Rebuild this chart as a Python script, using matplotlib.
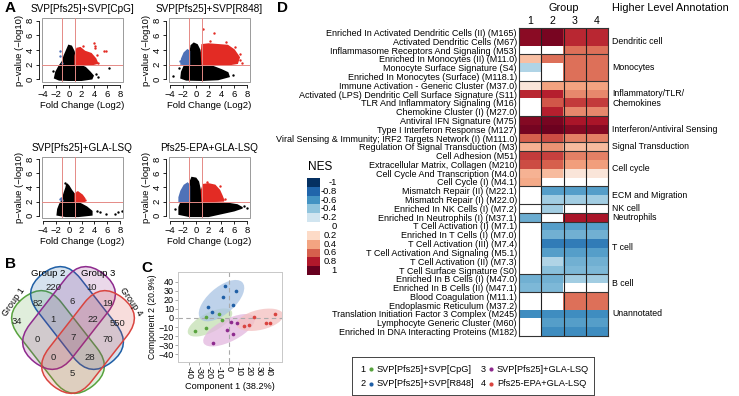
import numpy as np
import matplotlib.pyplot as plt
from matplotlib.patches import Polygon, Rectangle, FancyBboxPatch, Ellipse
from matplotlib.transforms import Affine2D
from matplotlib.colors import to_rgba

plt.rcParams['font.family'] = ['Liberation Sans', 'DejaVu Sans']

# ---------------- data ----------------
group_names = ['SVP[Pfs25]+SVP[CpG]', 'SVP[Pfs25]+SVP[R848]',
               'SVP[Pfs25]+GLA-LSQ', 'Pfs25-EPA+GLA-LSQ']
group_colors = ['#58a33e', '#1f5fa6', '#8e2a8e', '#d9443f']

# volcano plots: cloud outlines (fold change, -log10 p) + single points
v1_black = [(-2.2, 0.2), (-2.0, 1.0), (-1.5, 1.8), (-1.0, 2.4), (-0.7, 3.2), (-0.3, 4.0),
            (0.0, 4.6), (0.4, 4.5), (0.8, 3.8), (1.0, 2.8), (1.6, 2.0), (2.6, 1.6),
            (3.3, 1.0), (3.8, 0.5), (3.6, 0.1), (2.0, -0.1), (0.0, -0.1), (-1.5, -0.05)]
v1_red = [(1.0, 2.0), (1.0, 3.2), (1.3, 4.2), (1.8, 4.3), (2.5, 3.8), (3.5, 3.5),
          (4.2, 2.8), (4.5, 2.2), (3.5, 2.0)]
v1_red_pts = [(4.0, 4.9), (4.1, 4.6), (4.1, 4.3), (5.5, 3.8), (5.8, 3.8), (4.5, 3.3),
              (4.0, 2.5), (3.3, 2.9), (2.3, 4.6), (4.6, 2.2)]
v1_blue = []
v1_blue_pts = [(-1.3, 3.8), (-1.3, 3.2), (-1.1, 2.3)]
v1_black_pts = [(-2.4, 1.2), (6.3, 1.5), (4.2, 0.8), (4.6, 0.3)]

v2_black = [(-2.3, 0.2), (-2.2, 1.0), (-1.8, 1.8), (-1.0, 2.0), (-0.9, 3.5), (-0.7, 4.6),
            (-0.3, 4.9), (0.2, 4.7), (0.6, 4.0), (0.9, 2.6), (1.2, 2.0), (2.5, 1.8),
            (4.0, 1.3), (5.0, 0.9), (5.2, 0.4), (3.5, 0.0), (1.0, -0.1), (-1.5, -0.05)]
v2_red = [(1.0, 2.0), (0.9, 3.5), (1.0, 4.7), (2.0, 4.8), (3.5, 4.7), (5.0, 4.6),
          (6.0, 4.0), (6.8, 3.0), (6.5, 2.2), (5.0, 2.0)]
v2_red_pts = [(1.2, 6.9), (2.8, 6.3), (2.3, 5.2), (4.8, 5.1), (6.2, 4.4), (7.0, 2.6),
              (6.9, 3.4), (7.2, 2.3)]
v2_blue = [(-1.0, 2.0), (-1.0, 3.8), (-1.3, 4.0), (-1.8, 3.6), (-2.2, 2.8), (-2.3, 2.1)]
v2_blue_pts = [(-2.4, 2.5)]
v2_black_pts = [(-2.7, 1.5), (3.5, 1.2), (5.8, 0.6), (-3.5, 0.4)]

v3_black = [(-1.8, 0.1), (-1.7, 0.9), (-1.4, 1.6), (-1.0, 2.2), (-0.7, 3.2), (-0.4, 4.0),
            (-0.3, 4.5), (0.0, 4.2), (0.4, 3.6), (0.9, 3.0), (1.0, 2.0), (2.0, 1.6),
            (2.8, 1.2), (3.6, 0.6), (3.6, 0.1), (1.5, -0.1), (-0.5, -0.1)]
v3_red = [(1.0, 2.0), (1.0, 3.1), (1.5, 3.3), (2.1, 2.9), (2.5, 2.4), (2.4, 2.0)]
v3_red_pts = [(1.3, 3.4), (2.6, 2.2)]
v3_blue = []
v3_blue_pts = [(-1.3, 2.3), (-1.15, 2.5), (-1.05, 2.2)]
v3_black_pts = [(4.35, 0.6), (4.9, 0.45), (5.9, 0.2), (7.2, 0.2), (7.7, 0.45),
                (8.3, 0.6), (-0.6, 4.7)]

v4_black = [(-2.6, 0.2), (-2.6, 1.2), (-2.3, 1.9), (-1.0, 2.0), (-1.0, 4.5), (-0.6, 5.4),
            (0.0, 5.3), (0.4, 4.8), (0.7, 3.5), (1.0, 2.0), (2.5, 1.9), (4.5, 1.8),
            (6.5, 1.5), (7.3, 1.1), (6.0, 0.7), (4.0, 0.3), (2.0, -0.1), (-1.0, -0.1)]
v4_red = [(1.0, 2.0), (0.9, 3.6), (1.2, 4.4), (2.0, 4.5), (3.0, 4.3), (3.7, 3.6),
          (4.1, 2.8), (4.4, 2.1)]
v4_red_pts = [(1.8, 4.8), (4.6, 2.3), (3.8, 4.2)]
v4_blue = [(-1.0, 2.0), (-1.0, 4.2), (-1.3, 4.6), (-1.8, 4.3), (-2.3, 3.5), (-2.6, 2.6),
           (-2.6, 2.0)]
v4_blue_pts = []
v4_black_pts = [(7.5, 1.3), (-3.2, 1.0), (8.0, 1.1)]

# Venn counts (label, x, y in panel pixels)
venn_counts = ['220', '10', '82', '6', '19', '34', '1', '22', '550', '0', '7', '70', '0', '28', '5']
venn_x = [53, 92, 38, 72, 108, 17, 53, 93, 118, 37, 73, 108, 53, 90, 72]
venn_y = [288, 288, 303, 302, 303, 322, 320, 319, 323, 340, 338, 340, 358, 358, 374]

# PCA scores per group
pca_x = [[-10.2, -23, -7, -34, -23],
         [-4.2, 7.4, -5.6, -21.4, 3.9, -17.2],
         [1.7, 7.7, -1.8, 3.9, -16.5],
         [15, 20, 25, 37, 41, 46]]
pca_y = [[4.7, 1.1, -2.2, -14, -11],
         [35, 30, 22.7, 12, 14, 6.2],
         [-4.4, -5.9, -13.6, -18, -27],
         [-9, -7.3, 1, -5, -6, 4]]

# heatmap
modules = [
    'Enriched In Activated Dendritic Cells (II) (M165)',
    'Activated Dendritic Cells (M67)',
    'Inflammasome Receptors And Signaling (M53)',
    'Enriched In Monocytes (II) (M11.0)',
    'Monocyte Surface Signature (S4)',
    'Enriched In Monocytes (Surface) (M118.1)',
    'Immune Activation - Generic Cluster (M37.0)',
    'Activated (LPS) Dendritic Cell Surface Signature (S11)',
    'TLR And Inflammatory Signaling (M16)',
    'Chemokine Cluster (I) (M27.0)',
    'Antiviral IFN Signature (M75)',
    'Type I Interferon Response (M127)',
    'Viral Sensing & Immunity; IRF2 Targets Network (I) (M111.0)',
    'Regulation Of Signal Transduction (M3)',
    'Cell Adhesion (M51)',
    'Extracellular Matrix, Collagen (M210)',
    'Cell Cycle And Transcription (M4.0)',
    'Cell Cycle (I) (M4.1)',
    'Mismatch Repair (II) (M22.1)',
    'Mismatch Repair (I) (M22.0)',
    'Enriched In NK Cells (I) (M7.2)',
    'Enriched In Neutrophils (I) (M37.1)',
    'T Cell Activation (I) (M7.1)',
    'Enriched In T Cells (I) (M7.0)',
    'T Cell Activation (III) (M7.4)',
    'T Cell Activation And Signaling (M5.1)',
    'T Cell Activation (II) (M7.3)',
    'T Cell Surface Signature (S0)',
    'Enriched In B Cells (I) (M47.0)',
    'Enriched In B Cells (II) (M47.1)',
    'Blood Coagulation (M11.1)',
    'Endoplasmic Reticulum (M37.2)',
    'Translation Initiation Factor 3 Complex (M245)',
    'Lymphocyte Generic Cluster (M60)',
    'Enriched In DNA Interacting Proteins (M182)',
]
nes = np.array([
    [0.90, 0.95, 0.75, 0.75],
    [0.90, 0.95, 0.75, 0.75],
    [0, 0, 0.55, 0.55],
    [0.30, 0.55, 0.55, 0.55],
    [-0.30, 0, 0.55, 0.55],
    [0, 0, 0.55, 0.55],
    [0.12, 0.40, 0.40, 0.40],
    [0.75, 0.78, 0.48, 0.48],
    [0, 0.62, 0.70, 0.70],
    [0, 0.78, 0.48, 0.48],
    [0.92, 0.95, 0.82, 0.82],
    [0.96, 0.98, 0.92, 0.92],
    [0.60, 0.65, 0.50, 0.50],
    [0.35, 0.45, 0.32, 0.32],
    [0.70, 0.68, 0.50, 0.50],
    [0.65, 0.60, 0.42, 0.42],
    [0.35, 0.32, 0.12, 0.12],
    [0.38, 0, 0, 0],
    [0, -0.55, -0.55, -0.55],
    [0, -0.35, -0.35, -0.35],
    [0, -0.35, 0, 0],
    [-0.50, 0, 0.82, 0.82],
    [0, -0.55, -0.55, -0.55],
    [0, -0.48, -0.48, -0.48],
    [0, -0.70, -0.70, -0.70],
    [0, -0.55, -0.55, -0.55],
    [0, -0.30, -0.48, -0.48],
    [0, -0.42, -0.45, -0.45],
    [-0.48, -0.48, -0.35, -0.35],
    [-0.45, -0.45, 0, 0],
    [0, 0, 0.55, 0.55],
    [0, 0, 0.55, 0.55],
    [-0.62, -0.62, -0.62, -0.62],
    [0, -0.55, -0.55, -0.55],
    [0, -0.62, -0.62, -0.62],
])
annot_names = ['Dendritic cell', 'Monocytes', 'Inflammatory/TLR/\nChemokines',
               'Interferon/Antiviral Sensing', 'Signal Transduction', 'Cell cycle',
               'ECM and Migration', 'NK cell', 'Neutrophils', 'T cell', 'B cell',
               'Unannotated']
annot_start = [0, 3, 6, 10, 13, 14, 18, 20, 21, 22, 28, 30]
annot_end = [3, 6, 10, 13, 14, 18, 20, 21, 22, 28, 30, 35]
nes_levels = [-1, -0.8, -0.6, -0.4, -0.2, 0, 0.2, 0.4, 0.6, 0.8, 1]

# ---------------- figure ----------------
W, H = 739, 396
fig = plt.figure(figsize=(W / 100, H / 100), dpi=100)


def px_axes(x0, y0, x1, y1):
    return fig.add_axes([x0 / W, 1 - y1 / H, (x1 - x0) / W, (y1 - y0) / H])


def volcano(box, title, black, red, red_pts, blue, blue_pts, black_pts):
    ax = px_axes(*box)
    ax.set_xlim(-4.2, 8.5)
    ax.set_ylim(-0.35, 8.35)
    ax.add_patch(Polygon(black, closed=True, fc='black', ec='black', lw=1.2))
    ax.add_patch(Polygon(red, closed=True, fc='#e32b24', ec='#e32b24', lw=1.2))
    if blue:
        ax.add_patch(Polygon(blue, closed=True, fc='#4f72b8', ec='#4f72b8', lw=1.2))
    for pts, c in [(red_pts, '#e32b24'), (blue_pts, '#4f72b8'), (black_pts, 'black')]:
        if pts:
            xs, ys = zip(*pts)
            ax.scatter(xs, ys, s=3, color=c, lw=0)
    for xv in (-1, 1):
        ax.axvline(xv, color='#e58a86', lw=0.7, zorder=5)
    ax.axhline(2, color='#e58a86', lw=0.7, zorder=5)
    ax.add_patch(Rectangle((0, 0), 1, 1, transform=ax.transAxes, fill=False,
                           ec='#9a9a9a', lw=0.7, clip_on=False))
    for s in ('top', 'right'):
        ax.spines[s].set_visible(False)
    for s in ('left', 'bottom'):
        ax.spines[s].set_position(('outward', 2))
        ax.spines[s].set_linewidth(0.6)
    ax.spines['left'].set_bounds(0, 8)
    ax.spines['bottom'].set_bounds(-4, 8)
    ax.set_xticks([-4, -2, 0, 2, 4, 6, 8])
    ax.set_xticklabels(['\u22124', '\u22122', '0', '2', '4', '6', '8'])
    ax.set_yticks([0, 2, 4, 6, 8])
    ax.tick_params(length=2.5, width=0.6, labelsize=6.8, pad=1)
    ax.tick_params(axis='y', labelrotation=90)
    for lbl in ax.get_yticklabels():
        lbl.set_va('center')
    ax.set_title(title, fontsize=7.2, pad=4)
    ax.set_xlabel('Fold Change (Log2)', fontsize=6.8, labelpad=2)
    ax.set_ylabel('p\u2212value (\u2212log10)', fontsize=6.8, labelpad=1)
    return ax


volcano((42, 18, 123, 82), group_names[0], v1_black, v1_red, v1_red_pts, v1_blue, v1_blue_pts, v1_black_pts)
volcano((169, 18, 250, 82), group_names[1], v2_black, v2_red, v2_red_pts, v2_blue, v2_blue_pts, v2_black_pts)
volcano((42, 157, 123, 218), group_names[2], v3_black, v3_red, v3_red_pts, v3_blue, v3_blue_pts, v3_black_pts)
volcano((169, 157, 250, 218), group_names[3], v4_black, v4_red, v4_red_pts, v4_blue, v4_blue_pts, v4_black_pts)

# ---------------- Venn (B) ----------------
axv = px_axes(0, 262, 142, 396)
axv.set_xlim(0, 142)
axv.set_ylim(396, 262)
axv.axis('off')
venn_shapes = [(58, 342, 52), (77, 318, 52), (69, 318, -52), (88, 342, -52)]
for (cx, cy, ang), col in zip(venn_shapes, group_colors):
    L, Wd = 112, 54
    p = FancyBboxPatch((cx - L / 2, cy - Wd / 2), L, Wd,
                       boxstyle=f'round,pad=0,rounding_size={Wd / 2}',
                       fc=to_rgba(col, 0.18), ec=col, lw=1.1)
    p.set_transform(Affine2D().rotate_deg_around(cx, cy, ang) + axv.transData)
    axv.add_patch(p)
for t, x, y in zip(venn_counts, venn_x, venn_y):
    axv.text(x, y, t, ha='center', va='center', fontsize=6.8, color='#222222')
axv.text(48, 273, 'Group 2', ha='center', va='center', fontsize=6.8)
axv.text(98, 273, 'Group 3', ha='center', va='center', fontsize=6.8)
axv.text(14, 302, 'Group 1', ha='center', va='center', fontsize=6.5, rotation=55)
axv.text(131, 302, 'Group 4', ha='center', va='center', fontsize=6.5, rotation=-55)

# ---------------- PCA (C) ----------------
axc = px_axes(178, 272, 282, 362)
axc.set_xlim(-51, 53)
axc.set_ylim(-48.4, 50.5)
axc.axvline(0, color='#aaaaaa', lw=0.8, ls=(0, (4, 3)))
axc.axhline(0, color='#aaaaaa', lw=0.8, ls=(0, (4, 3)))
ell = [((-19, -5), 50, 21, 30), ((-7.5, 19), 58, 28, 45),
       ((0, -13.5), 58, 24, 30), ((31, -2), 48, 22, 15)]
ell_fill = ['#c3dfb2', '#a9c4e4', '#e2b6de', '#f3c0c0']
for (c, w_, h_, a), fcol in zip(ell, ell_fill):
    axc.add_patch(Ellipse(c, w_, h_, angle=a, fc=to_rgba(fcol, 0.75), ec='none'))
for xs, ys, col in zip(pca_x, pca_y, group_colors):
    axc.scatter(xs, ys, s=7, color=col, lw=0, zorder=3)
for s in axc.spines.values():
    s.set_color('#c8c8c8')
    s.set_linewidth(0.7)
axc.set_xticks(range(-40, 41, 10))
axc.set_yticks(range(-40, 41, 10))
axc.set_xticklabels([str(v) for v in range(-40, 41, 10)], rotation=-90)
axc.tick_params(length=2, width=0.5, labelsize=6.5, pad=1, color='#888888')
axc.set_xlabel('Component 1 (38.2%)', fontsize=6.6, labelpad=2)
axc.set_ylabel('Component 2 (20.9%)', fontsize=6.2, labelpad=1)

# ---------------- heatmap (D) ----------------
axh = px_axes(519, 28, 608, 336)
cmap = plt.get_cmap('RdBu_r')
shown = np.ma.masked_where(nes == 0, nes)
cm = cmap.copy()
cm.set_bad('white')
axh.imshow(shown, cmap=cm, vmin=-1, vmax=1, aspect='auto',
           interpolation='nearest', extent=(0, 4, 35, 0))
for xv in (1, 2, 3):
    axh.axvline(xv, color='#222222', lw=0.8)
for yv in annot_start[1:]:
    axh.axhline(yv, color='#333333', lw=0.8)
for s in axh.spines.values():
    s.set_color('#333333')
    s.set_linewidth(0.8)
axh.set_yticks(np.arange(len(modules)) + 0.5)
axh.set_yticklabels(modules, fontsize=6.5)
axh.xaxis.tick_top()
axh.set_xticks([0.5, 1.5, 2.5, 3.5])
axh.set_xticklabels(['1', '2', '3', '4'], fontsize=7.6)
axh.tick_params(length=0, pad=1.5)
axh.text(2, -2.3, 'Group', ha='center', va='center', fontsize=7.8)
axh.text(4.18, -2.3, 'Higher Level Annotation', ha='left', va='center', fontsize=7.8)
for name, a, b in zip(annot_names, annot_start, annot_end):
    axh.text(4.18, (a + b) / 2, name, ha='left', va='center', fontsize=6.3,
             linespacing=1.1)

# NES legend
axn = px_axes(305, 178, 345, 275)
axn.set_xlim(0, 40)
axn.set_ylim(len(nes_levels), 0)
axn.axis('off')
for i, v in enumerate(nes_levels):
    if v != 0:
        axn.add_patch(Rectangle((2, i), 13, 1, fc=cmap((v + 1) / 2), ec='none'))
    axn.text(32, i + 0.5, f'{v:g}', ha='right', va='center', fontsize=6.8)
axn.text(15, -1.2, 'NES', ha='center', va='center', fontsize=8.5)

# group legend
axl = px_axes(352, 357, 594, 395)
axl.set_xlim(352, 594)
axl.set_ylim(395, 357)
axl.set_xticks([])
axl.set_yticks([])
for s in axl.spines.values():
    s.set_color('#444444')
    s.set_linewidth(0.7)
leg_x = [363, 363, 483, 483]
leg_y = [369, 384, 369, 384]
for i, (name, col) in enumerate(zip(group_names, group_colors)):
    axl.text(leg_x[i], leg_y[i], str(i + 1), ha='center', va='center', fontsize=6.6)
    axl.scatter([leg_x[i] + 8], [leg_y[i]], s=9, color=col, lw=0)
    axl.text(leg_x[i] + 14, leg_y[i], name, ha='left', va='center', fontsize=6.6)

# panel letters
for lab, x, y in [('A', 10, 8), ('B', 10, 264), ('C', 147, 268), ('D', 283, 8)]:
    fig.text(x / W, 1 - y / H, lab, fontsize=11, fontweight='bold', ha='center', va='center')

fig.savefig('out.png', dpi=100)
